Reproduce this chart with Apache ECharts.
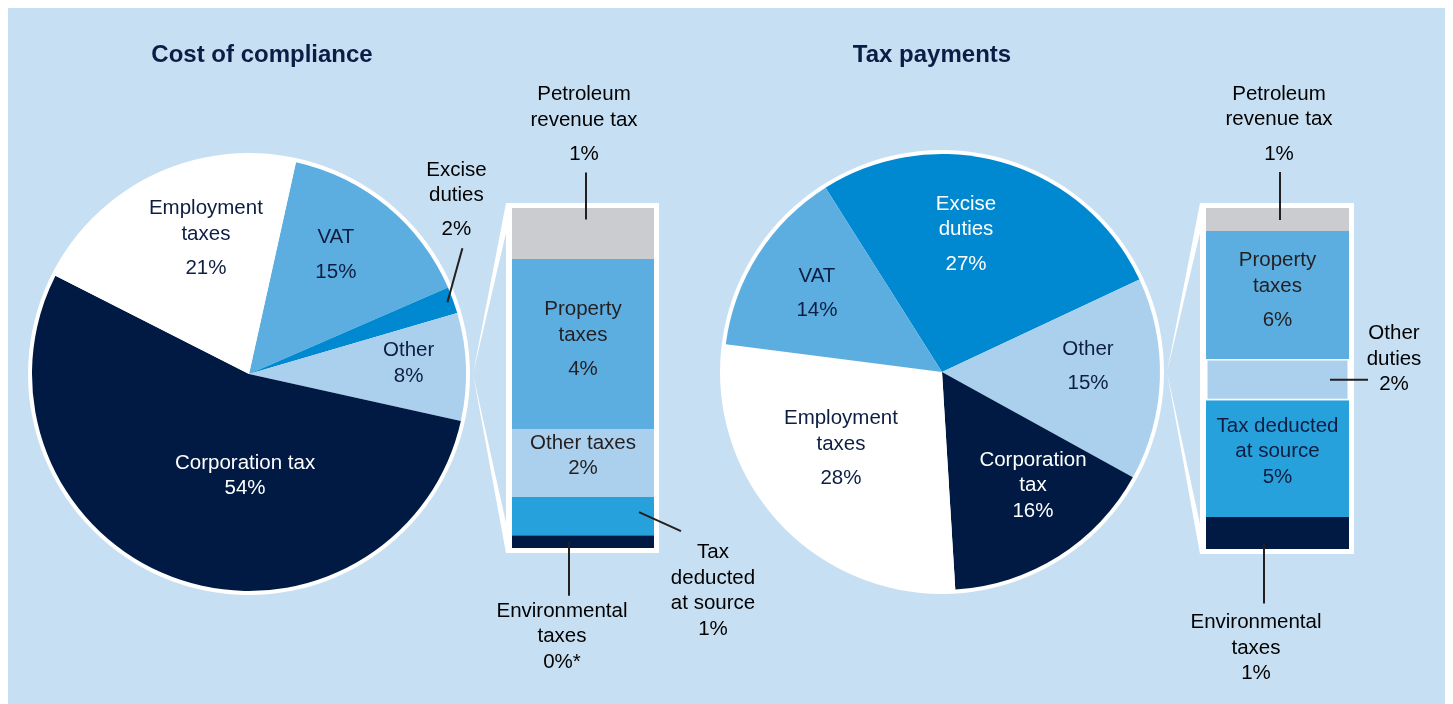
<!DOCTYPE html>
<html>
<head>
<meta charset="utf-8">
<script src="https://cdn.jsdelivr.net/npm/echarts@6/dist/echarts.min.js"></script>
<style>
  html, body { margin: 0; padding: 0; background: #fff; }
  #main { width: 1453px; height: 704px; }
</style>
</head>
<body>
<div id="main"></div>
<script>
// cost of compliance, slices clockwise from the VAT / Employment edge
var costNames = ['VAT', 'Excise\nduties', 'Other', 'Corporation tax', 'Employment\ntaxes'];
var costValues = [15, 2, 8, 54, 21];
// split of "Other" (8%), bottom to top
var costOtherNames = ['Environmental\ntaxes', 'Tax\ndeducted\nat source', 'Other taxes', 'Property\ntaxes', 'Petroleum\nrevenue tax'];
var costOtherValues = [0.3, 0.9, 1.6, 4.0, 1.2];
var costOtherNotes = ['*', '', '', '', ''];

// tax payments, slices clockwise from the VAT / Excise edge
var payNames = ['Excise\nduties', 'Other', 'Corporation\ntax', 'Employment\ntaxes', 'VAT'];
var payValues = [27, 15, 16, 28, 14];
// split of "Other" (15%), bottom to top
var payOtherNames = ['Environmental\ntaxes', 'Tax deducted\nat source', 'Other\nduties', 'Property\ntaxes', 'Petroleum\nrevenue tax'];
var payOtherValues = [1.4, 5.1, 1.8, 5.6, 1.0];
var payOtherNotes = ['', '', '', '', ''];

var FONT = '"Liberation Sans", Arial, Helvetica, sans-serif';
var BG = '#c6dff2';
var NAVY = '#0d1e42';
var DARK = '#231f20';
var FS = 20.5;

var colors = {
  'VAT': '#5daee0',
  'Excise duties': '#0089d1',
  'Other': '#abd0ee',
  'Corporation tax': '#001a43',
  'Employment taxes': '#ffffff',
  'Environmental taxes': '#001a43',
  'Tax deducted at source': '#27a1dc',
  'Other taxes': '#abd0ee',
  'Other duties': '#abd0ee',
  'Property taxes': '#5daee0',
  'Petroleum revenue tax': '#cbcccf'
};

function key(n) { return n.replace(/\n/g, ' '); }

function richFor(color) {
  return {
    n: { fontFamily: FONT, fontSize: FS, lineHeight: 25.5, color: color },
    p: { fontFamily: FONT, fontSize: FS, lineHeight: 25.5, color: color },
    g: { fontFamily: FONT, fontSize: FS, lineHeight: 43, color: color }
  };
}

function labelText(name, pct, gap) {
  var lines = name.split('\n').map(function (s) { return '{n|' + s + '}'; });
  return lines.join('\n') + '\n{' + (gap ? 'g' : 'p') + '|' + pct + '}';
}

function polar(c, dist, deg) {
  var a = deg * Math.PI / 180;
  return [c[0] + dist * Math.cos(a), c[1] - dist * Math.sin(a)];
}

function sum(arr) { return arr.reduce(function (s, v) { return s + v; }, 0); }

var panels = [
  {
    title: 'Cost of compliance', titleX: 257,
    names: costNames, values: costValues, start: 77.5, center: [249, 374], r: 217,
    grid: { left: 512, top: 208, width: 142, height: 340 },
    barNames: costOtherNames, barValues: costOtherValues, notes: costOtherNotes,
    // [angle, distance, gap before %, colour]
    pieLabels: {
      'VAT': [52.9, 144, true, NAVY],
      'Other': [3.9, 160, false, NAVY],
      'Corporation tax': [-92.2, 102, false, '#ffffff'],
      'Employment taxes': [108.2, 138, true, NAVY]
    },
    pieOutside: {
      'Excise duties': { dist: -6, to: [15, -54], label: [-6, -44], gap: true, color: DARK }
    },
    barInside: {
      'Property taxes': { gap: true, dy: 0, color: DARK },
      'Other taxes': { gap: false, dy: -7, color: DARK }
    },
    barOutside: {
      'Petroleum revenue tax': { from: [3, -14], to: [0, -47], label: [-2, -43.5], gap: true, color: DARK },
      'Environmental taxes': { from: [-14, 0], to: [0, 54], label: [-7, 41], gap: false, color: NAVY },
      'Tax deducted at source': { from: [56, -4], to: [42, 19], label: [32, 59.5], gap: false, color: NAVY }
    }
  },
  {
    title: 'Tax payments', titleX: 927,
    names: payNames, values: payValues, start: 122.3, center: [942, 372], r: 218,
    grid: { left: 1206, top: 208, width: 143, height: 341 },
    barNames: payOtherNames, barValues: payOtherValues, notes: payOtherNotes,
    pieLabels: {
      'Excise duties': [79.8, 135.6, true, '#ffffff'],
      'Other': [0.4, 146, true, NAVY],
      'Corporation tax': [-51.3, 145.5, false, '#ffffff'],
      'Employment taxes': [-141.3, 129.5, true, NAVY],
      'VAT': [149.4, 145.3, true, NAVY]
    },
    pieOutside: {},
    barInside: {
      'Property taxes': { gap: true, dy: 0, color: DARK },
      'Tax deducted at source': { gap: false, dy: -7, color: NAVY }
    },
    barOutside: {
      'Petroleum revenue tax': { from: [2.5, 0.5], to: [0, -48], label: [-1, -43.5], gap: true, color: DARK },
      'Other duties': { from: [52.5, 0], to: [38, 0], label: [26, -20.5], gap: false, color: DARK },
      'Environmental taxes': { from: [-13.5, 10.5], to: [0, 60], label: [-8, 44.5], gap: false, color: NAVY }
    }
  }
];

var chart = echarts.init(document.getElementById('main'));

var series = [];
var grids = [];
var xAxes = [];
var yAxes = [];
var titles = [];

panels.forEach(function (p, pi) {
  titles.push({
    text: p.title, left: p.titleX, top: 38, textAlign: 'center',
    textStyle: { fontFamily: FONT, fontSize: 24, fontWeight: 'bold', color: '#0b1d45' }
  });

  series.push({
    type: 'pie',
    center: p.center,
    radius: [0, p.r],
    startAngle: p.start,
    clockwise: true,
    silent: true,
    animation: false,
    avoidLabelOverlap: false,
    z: 3,
    data: p.names.map(function (n, i) {
      var k = key(n);
      var conf = p.pieLabels[k];
      return {
        name: n,
        value: p.values[i],
        itemStyle: { color: colors[k] },
        label: conf ? {
          show: true,
          position: 'inside',
          formatter: labelText(n, p.values[i] + '%', conf[2]),
          rich: richFor(conf[3])
        } : { show: false },
        labelLine: { show: false }
      };
    }),
    labelLayout: function (params) {
      var conf = p.pieLabels[key(p.names[params.dataIndex])];
      if (!conf) return {};
      var pt = polar(p.center, conf[1], conf[0]);
      return { x: pt[0], y: pt[1], align: 'center', verticalAlign: 'middle' };
    }
  });

  grids.push({ left: p.grid.left, top: p.grid.top, width: p.grid.width, height: p.grid.height });
  xAxes.push({ type: 'category', gridIndex: pi, data: ['x'], show: false });
  yAxes.push({ type: 'value', gridIndex: pi, min: 0, max: sum(p.barValues), show: false });

  p.barNames.forEach(function (n, i) {
    var k = key(n);
    var inside = p.barInside[k];
    var v = p.barValues[i];
    series.push({
      type: 'bar',
      name: k,
      stack: 'other' + pi,
      xAxisIndex: pi,
      yAxisIndex: pi,
      barWidth: '100%',
      silent: true,
      animation: false,
      z: 3,
      data: [v],
      itemStyle: k === 'Other duties'
        ? { color: colors[k], borderColor: '#ffffff', borderWidth: 1.5 }
        : { color: colors[k] },
      label: inside ? {
        show: true,
        position: 'inside',
        offset: [0, inside.dy],
        formatter: function () { return labelText(n, Math.round(v) + '%' + p.notes[i], inside.gap); },
        rich: richFor(inside.color)
      } : { show: false }
    });
  });
});

chart.setOption({
  backgroundColor: '#ffffff',
  animation: false,
  title: titles,
  grid: grids,
  xAxis: xAxes,
  yAxis: yAxes,
  series: series
});

// frames, rings, connectors and the call-out labels
var graphics = [
  { type: 'rect', shape: { x: 8, y: 8, width: 1437, height: 700 }, style: { fill: BG }, z: -10, silent: true }
];

panels.forEach(function (p, pi) {
  var g = p.grid;
  var fl = g.left - 6, ft = g.top - 5, fr = g.left + g.width + 5, fb = g.top + g.height + 5;
  graphics.push({ type: 'circle', shape: { cx: p.center[0], cy: p.center[1], r: p.r + 4 }, style: { fill: '#ffffff' }, z: 1, silent: true });
  graphics.push({ type: 'rect', shape: { x: fl, y: ft, width: fr - fl, height: fb - ft }, style: { fill: '#ffffff' }, z: 1, silent: true });
  var tip = [p.center[0] + p.r + 7, p.center[1]];
  graphics.push({ type: 'polygon', shape: { points: [tip, [fl, ft], [fl + 6, ft], [fl + 6, ft + 30], [fl, ft + 30]] }, style: { fill: '#ffffff' }, z: 1, silent: true });
  graphics.push({ type: 'polygon', shape: { points: [tip, [fl, fb], [fl + 6, fb], [fl + 6, fb - 30], [fl, fb - 30]] }, style: { fill: '#ffffff' }, z: 1, silent: true });

  // pie call-outs
  var total = sum(p.values);
  var acc = 0;
  p.names.forEach(function (n, i) {
    var mid = p.start - (acc + p.values[i] / 2) / total * 360;
    acc += p.values[i];
    var o = p.pieOutside[key(n)];
    if (!o) return;
    var from = polar(p.center, p.r + o.dist, mid);
    var to = [from[0] + o.to[0], from[1] + o.to[1]];
    graphics.push({ type: 'line', shape: { x1: from[0], y1: from[1], x2: to[0], y2: to[1] }, style: { stroke: DARK, lineWidth: 2 }, z: 10, silent: true });
    graphics.push({
      type: 'text', x: to[0] + o.label[0], y: to[1] + o.label[1], z: 10, silent: true,
      style: { text: labelText(n, p.values[i] + '%', o.gap), rich: richFor(o.color), align: 'center', verticalAlign: 'middle' }
    });
  });

  // bar call-outs
  var cum = 0;
  p.barNames.forEach(function (n, i) {
    var v = p.barValues[i];
    var lo = chart.convertToPixel({ gridIndex: pi }, ['x', cum]);
    var hi = chart.convertToPixel({ gridIndex: pi }, ['x', cum + v]);
    cum += v;
    var o = p.barOutside[key(n)];
    if (!o) return;
    var from = [lo[0] + o.from[0], (lo[1] + hi[1]) / 2 + o.from[1]];
    var to = [from[0] + o.to[0], from[1] + o.to[1]];
    graphics.push({ type: 'line', shape: { x1: from[0], y1: from[1], x2: to[0], y2: to[1] }, style: { stroke: DARK, lineWidth: 2 }, z: 10, silent: true });
    graphics.push({
      type: 'text', x: to[0] + o.label[0], y: to[1] + o.label[1], z: 10, silent: true,
      style: { text: labelText(n, Math.round(v) + '%' + p.notes[i], o.gap), rich: richFor(o.color), align: 'center', verticalAlign: 'middle' }
    });
  });
});

chart.setOption({ graphic: graphics });
</script>
</body>
</html>
